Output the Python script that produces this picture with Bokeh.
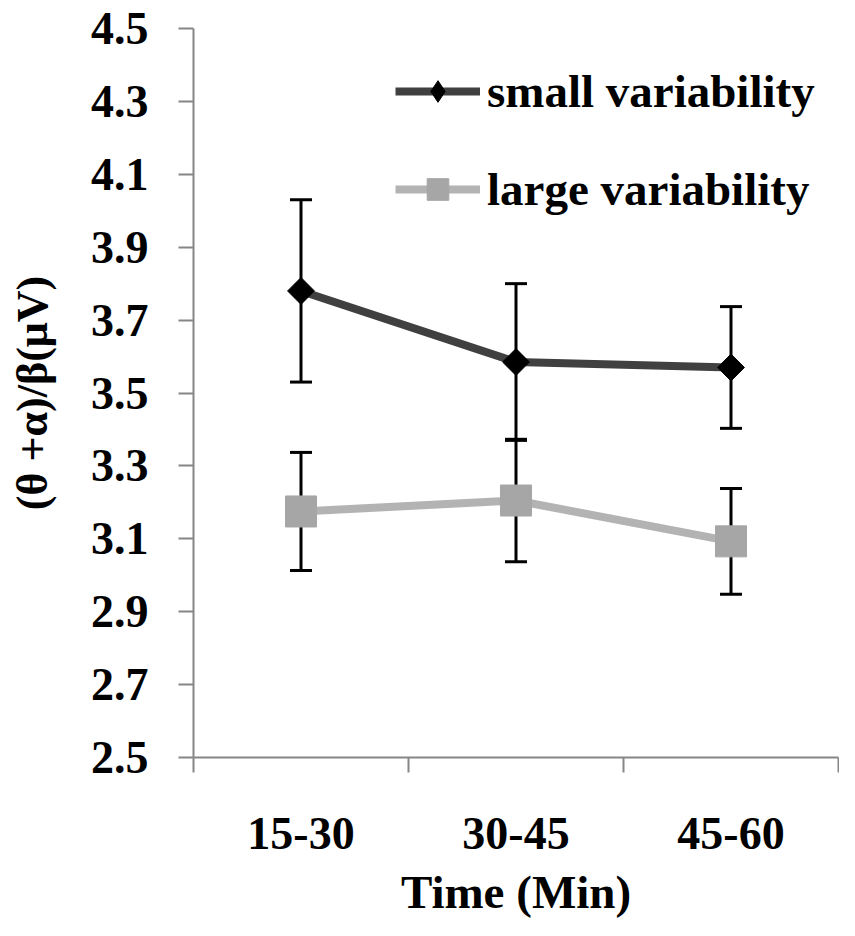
import math
from bokeh.plotting import figure
from bokeh.models import (ColumnDataSource, Whisker, TeeHead, FixedTicker,
                          PrintfTickFormatter, Range1d, Legend, LegendItem)
from bokeh.embed import file_html
from bokeh.resources import INLINE

categories = ["15-30", "30-45", "45-60"]
small_mean = [3.78, 3.585, 3.57]
small_err = [0.25, 0.215, 0.167]
large_mean = [3.175, 3.205, 3.093]
large_err = [0.162, 0.168, 0.145]
y_ticks = [2.5, 2.7, 2.9, 3.1, 3.3, 3.5, 3.7, 3.9, 4.1, 4.3, 4.5]
series_labels = ["small variability", "large variability"]
x_title = "Time (Min)"
y_title = "(θ +α)/β(μV)"

FONT = "Liberation Serif"
AXIS_GRAY = "#868686"

xs = [i + 0.5 for i in range(len(categories))]
src = ColumnDataSource(dict(
    x=xs,
    small=small_mean,
    s_up=[m + e for m, e in zip(small_mean, small_err)],
    s_lo=[m - e for m, e in zip(small_mean, small_err)],
    large=large_mean,
    l_up=[m + e for m, e in zip(large_mean, large_err)],
    l_lo=[m - e for m, e in zip(large_mean, large_err)],
))

p = figure(width=839, height=920,
           x_range=Range1d(0, len(categories)), y_range=Range1d(y_ticks[0], y_ticks[-1]),
           output_backend="svg", toolbar_location=None,
           min_border_left=193, min_border_right=1, min_border_top=28, min_border_bottom=163)
p.xgrid.visible = False
p.ygrid.visible = False
p.outline_line_color = None
p.background_fill_color = "white"

# error bars
for up, lo in (("s_up", "s_lo"), ("l_up", "l_lo")):
    w = Whisker(base="x", upper=up, lower=lo, source=src, dimension="height",
                line_color="black", line_width=3, level="underlay",
                upper_head=TeeHead(size=22, line_width=3, line_color="black"),
                lower_head=TeeHead(size=22, line_width=3, line_color="black"))
    p.add_layout(w)

l1 = p.line("x", "small", source=src, line_color="#404040", line_width=8)
# diamond key (hidden under the rotated square in the plot, shown in the legend)
k1 = p.scatter("x", "small", source=src, marker="diamond", size=24,
               fill_color="black", line_color="black")
s1 = p.scatter("x", "small", source=src, marker="square", angle=math.pi / 4, size=19,
               fill_color="black", line_color="black")
l2 = p.line("x", "large", source=src, line_color="#b3b3b3", line_width=8)
s2 = p.scatter("x", "large", source=src, marker="square", size=31,
               fill_color="#a6a6a6", line_color="#a6a6a6")

# x axis: boundary ticks as minor ticks, labels at centers
xa = p.xaxis[0]
xa.ticker = FixedTicker(ticks=xs, minor_ticks=list(range(len(categories) + 1)))
xa.major_label_overrides = {x: c for x, c in zip(xs, categories)}
xa.major_tick_out = 0
xa.major_tick_in = 0
xa.minor_tick_out = 15
xa.minor_tick_in = 0
xa.minor_tick_line_color = AXIS_GRAY
xa.minor_tick_line_width = 2
xa.axis_line_color = AXIS_GRAY
xa.axis_line_width = 2
xa.major_label_standoff = 45
xa.major_label_text_font = FONT
xa.major_label_text_font_style = "bold"
xa.major_label_text_font_size = "46px"
xa.major_label_text_color = "black"
xa.axis_label = x_title
xa.axis_label_text_font = FONT
xa.axis_label_text_font_style = "bold"
xa.axis_label_text_font_size = "47px"
xa.axis_label_text_color = "black"
xa.axis_label_standoff = 14

ya = p.yaxis[0]
ya.ticker = FixedTicker(ticks=y_ticks, minor_ticks=[])
ya.formatter = PrintfTickFormatter(format="%.1f")
ya.major_tick_out = 15
ya.major_tick_in = 0
ya.major_tick_line_color = AXIS_GRAY
ya.major_tick_line_width = 2
ya.axis_line_color = AXIS_GRAY
ya.axis_line_width = 2
ya.major_label_standoff = 30
ya.major_label_text_font = FONT
ya.major_label_text_font_style = "bold"
ya.major_label_text_font_size = "46px"
ya.major_label_text_color = "black"
ya.axis_label = y_title
ya.axis_label_text_font = FONT
ya.axis_label_text_font_style = "bold"
ya.axis_label_text_font_size = "44px"
ya.axis_label_text_color = "black"
ya.axis_label_standoff = 31

legend = Legend(items=[LegendItem(label=series_labels[0], renderers=[l1, k1]),
                       LegendItem(label=series_labels[1], renderers=[l2, s2])],
                location=(202, 541), glyph_width=85, glyph_height=54, label_height=54,
                spacing=44, label_standoff=7, padding=0, margin=0,
                border_line_color=None, background_fill_alpha=0,
                label_text_font=FONT, label_text_font_style="bold",
                label_text_font_size="47px", label_text_color="black")
p.add_layout(legend)

open("out.html", "w").write(file_html(p, INLINE))
